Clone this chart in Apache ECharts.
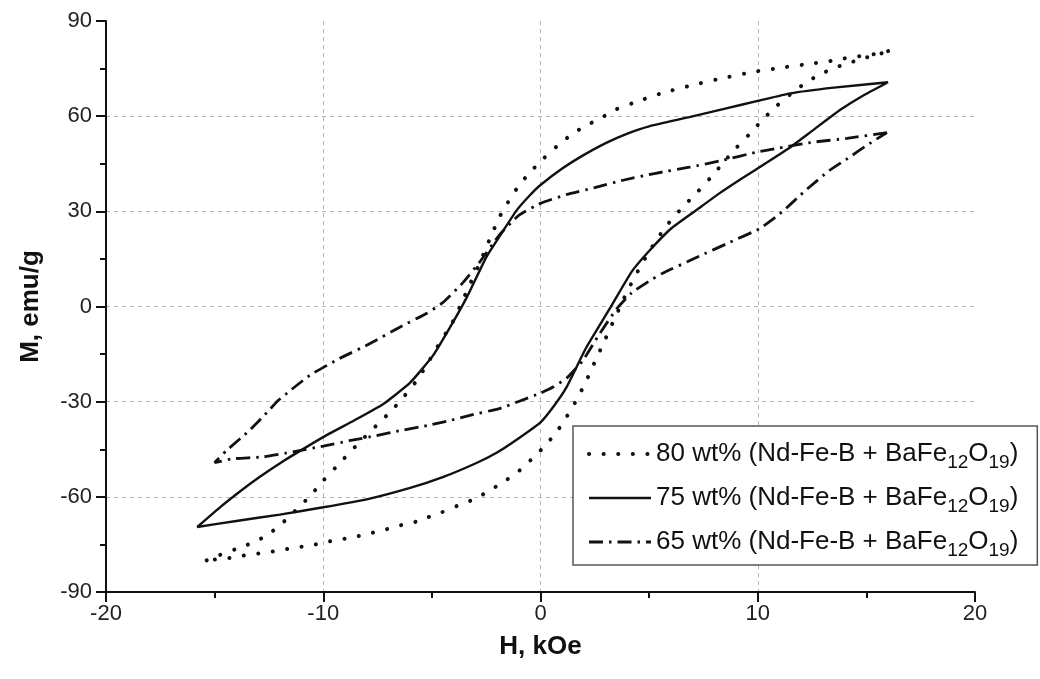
<!DOCTYPE html>
<html>
<head>
<meta charset="utf-8">
<script src="https://cdn.jsdelivr.net/npm/echarts@6/dist/echarts.min.js"></script>
<style>html,body{margin:0;padding:0;background:#fff}#c{width:1040px;height:679px}</style>
</head>
<body>
<div id="c"></div>
<script>
// Series names
const seriesNames = [
  '80 wt% (Nd-Fe-B + BaFe12O19)',
  '75 wt% (Nd-Fe-B + BaFe12O19)',
  '65 wt% (Nd-Fe-B + BaFe12O19)'
];
// Axis ticks
const xTicks = [-20, -10, 0, 10, 20];
const yTicks = [-90, -60, -30, 0, 30, 60, 90];

// 80 wt% — upper (descending H) branch
const h80Up = [16, 15.25, 14.55, 13.9, 13.2, 12.5, 11.1, 9.75, 8.4, 7, 5.6, 4.2, 3.5, 2.85, 2.15, 1.5, 0.8, 0.15, -0.5, -1.05, -1.5, -1.9, -2.2, -2.5, -2.8, -3.2, -3.6, -4.05, -4.8, -5.25, -5.7, -6.25, -6.85, -7.55, -8.5, -9.3, -10, -10.6, -11.9, -12.6, -13.3, -14, -14.75, -15.5];
const m80Up = [80.5, 79.4, 78.8, 78.1, 77.2, 76.6, 75.3, 73.9, 72, 69.8, 67.3, 64, 62.2, 59.7, 57.2, 54.6, 50.8, 46.7, 42.2, 37.6, 32.8, 28.1, 23.4, 18.6, 13.6, 7.8, 1.6, -5, -13.3, -18.6, -23.4, -28.1, -32.8, -37.5, -44, -49.8, -54.9, -59.7, -68.4, -72.2, -74.6, -76.4, -78.3, -80.4];
// 80 wt% — lower (ascending H) branch
const h80Lo = [-15.5, -14.85, -14.2, -13.5, -12.8, -12.1, -11.4, -10.7, -10, -9.4, -8.7, -8, -7.3, -6.6, -5.9, -5.2, -4.55, -3.85, -3.15, -2.45, -1.8, -1.1, -0.45, 0.2, 0.75, 1.2, 1.7, 2.1, 2.5, 2.9, 3.3, 3.7, 4.1, 4.55, 5.0, 5.4, 5.9, 6.5, 7.2, 7.8, 8.4, 9, 9.6, 10.2, 10.85, 11.55, 12.2, 12.9, 13.6, 14.3, 15, 15.6, 16];
const m80Lo = [-80.4, -79.6, -79.2, -78.3, -77.7, -77, -76.1, -75.5, -74.5, -73.6, -72.9, -71.7, -70.7, -69.2, -68.2, -66.5, -64.9, -62.9, -61, -58.5, -55.7, -52.5, -48.4, -44, -39.5, -34.8, -29, -23.5, -17.5, -11.5, -5.5, 0.5, 6.2, 12, 17.3, 21.6, 26.3, 31, 35.9, 40.4, 45.2, 49.9, 54.2, 58.7, 63.1, 67.2, 70.5, 73.3, 75.4, 77, 78.5, 79.6, 80.5];

// 75 wt% — upper branch
const h75Up = [16, 13.5, 11.5, 10, 8.5, 6.85, 5, 4, 3, 2, 1, 0, -0.5, -1.1, -1.8, -2.5, -3.4, -4.2, -4.95, -6.0, -7.25, -8.6, -9.7, -10.8, -11.9, -12.9, -13.7, -14.7, -15.8];
const m75Up = [70.7, 69, 67.2, 64.8, 62.4, 59.7, 56.8, 54.5, 51.5, 47.8, 43.5, 38.3, 35, 30.3, 23, 15.5, 2.8, -7, -15.5, -24, -30.8, -36, -40, -44.4, -49, -53.6, -57.6, -63, -69.5];
// 75 wt% — lower branch
const h75Lo = [-15.8, -14, -12, -10, -8, -6, -4.5, -3, -2, -1, 0, 0.6, 1.2, 2.1, 3.2, 4.2, 5, 6, 7.2, 8.2, 9.3, 10.4, 11.5, 12.55, 13.8, 14.8, 16];
const m75Lo = [-69.5, -67.6, -65.6, -63.3, -60.8, -57.2, -53.8, -49.5, -46, -41.5, -36.5, -31.5, -25.4, -13, -0.5, 11, 17.5, 24.5, 30.5, 35.5, 40.5, 45.3, 50.2, 55.6, 62, 66.3, 70.7];

// 65 wt% — upper branch
const h65Up = [15.95, 14.1, 12.55, 11, 9.9, 8.4, 6.85, 5.3, 3.8, 2.5, 1.2, 0, -1, -1.9, -2.8, -3.6, -4.5, -5.25, -6.5, -7.85, -9.25, -10.6, -11.5, -12.1, -12.6, -13.45, -14.45, -15];
const m65Up = [54.8, 53, 51.8, 50, 48.6, 46.1, 43.9, 42, 39.8, 37.5, 35.3, 32.5, 28.7, 22.5, 14, 7.3, 1.2, -2.2, -6.6, -11.7, -16.4, -21.6, -26.4, -29.8, -33.5, -39.4, -45.4, -49.2];
// 65 wt% — lower branch
const h65Lo = [-15, -14.15, -12.75, -11.4, -10, -8.8, -7.55, -6.5, -5.2, -4.2, -3.25, -1.9, -0.95, 0, 0.6, 1.2, 1.95, 2.7, 3.5, 4.2, 5, 5.6, 7.2, 8.7, 10.1, 11.1, 12.2, 13.3, 14.1, 15.15, 15.95];
const m65Lo = [-49.2, -48, -47.4, -45.8, -44, -42.3, -40.7, -39.2, -37.5, -36, -34.3, -32.2, -29.8, -27.3, -25.3, -22.6, -17, -8.8, -0.8, 4.3, 8, 10.4, 15.5, 20.2, 24.6, 29.7, 36.6, 42.9, 46.5, 51.4, 54.8];

function loop(hu, mu, hl, ml) {
  const d = [];
  for (let i = 0; i < hu.length; i++) d.push([hu[i], mu[i]]);
  for (let i = 0; i < hl.length; i++) d.push([hl[i], ml[i]]);
  return d;
}

const FONT = 'Liberation Sans, Arial, sans-serif';
const INK = '#111';

const chart = echarts.init(document.getElementById('c'), null, {renderer: 'canvas'});

const axisCommon = {
  type: 'value',
  nameLocation: 'middle',
  nameTextStyle: {fontFamily: FONT, fontWeight: 'bold', fontSize: 26, color: INK},
  axisLine: {show: true, onZero: false, lineStyle: {color: INK, width: 2}},
  axisTick: {show: true, inside: false, length: 10, lineStyle: {color: INK, width: 2}},
  minorTick: {show: true, splitNumber: 2, length: 6, lineStyle: {color: INK, width: 2}},
  splitLine: {show: true, showMinLine: false, showMaxLine: false, lineStyle: {color: '#b5b5b5', width: 1, type: [4, 4]}},
  axisLabel: {fontFamily: FONT, fontSize: 22, color: '#222'}
};

chart.setOption({
  animation: false,
  backgroundColor: '#fff',
  grid: {left: 106, right: 65, top: 21, bottom: 87, containLabel: false},
  xAxis: Object.assign({}, axisCommon, {
    min: xTicks[0], max: xTicks[xTicks.length - 1], interval: 10,
    name: 'H, kOe', nameGap: 42,
    axisLabel: Object.assign({}, axisCommon.axisLabel, {margin: 11})
  }),
  yAxis: Object.assign({}, axisCommon, {
    min: yTicks[0], max: yTicks[yTicks.length - 1], interval: 30,
    name: 'M, emu/g', nameGap: 62,
    axisLabel: Object.assign({}, axisCommon.axisLabel, {margin: 14})
  }),
  legend: {
    orient: 'vertical',
    left: 573, top: 426,
    itemWidth: 62, itemHeight: 14, itemGap: 8,
    padding: [10, 19, 5, 14],
    borderColor: '#555', borderWidth: 1.5,
    backgroundColor: '#fff',
    selectedMode: false,
    data: seriesNames,
    itemStyle: {color: 'rgba(0,0,0,0)', borderWidth: 0, opacity: 0},
    lineStyle: {width: 'inherit'},
    formatter: function (name) {
      return name.replace('BaFe12O19', 'BaFe{s|12}O{s|19}');
    },
    textStyle: {
      fontFamily: FONT, fontSize: 26, color: INK, lineHeight: 36,
      rich: {s: {fontFamily: FONT, fontSize: 19, color: INK, lineHeight: 18, verticalAlign: 'bottom'}}
    }
  },
  series: [
    {
      name: seriesNames[0], type: 'line', symbol: 'none', showSymbol: false, smooth: 0.15,
      lineStyle: {color: INK, width: 4, type: [0.1, 14.5], cap: 'round'},
      itemStyle: {color: INK},
      data: loop(h80Up, m80Up, h80Lo, m80Lo)
    },
    {
      name: seriesNames[1], type: 'line', symbol: 'none', showSymbol: false, smooth: 0.15,
      lineStyle: {color: INK, width: 2.4, type: 'solid'},
      itemStyle: {color: INK},
      data: loop(h75Up, m75Up, h75Lo, m75Lo)
    },
    {
      name: seriesNames[2], type: 'line', symbol: 'none', showSymbol: false, smooth: 0.15,
      lineStyle: {color: INK, width: 2.8, type: [14, 6, 2.5, 6]},
      itemStyle: {color: INK},
      data: loop(h65Up, m65Up, h65Lo, m65Lo)
    }
  ]
});
</script>
</body>
</html>
